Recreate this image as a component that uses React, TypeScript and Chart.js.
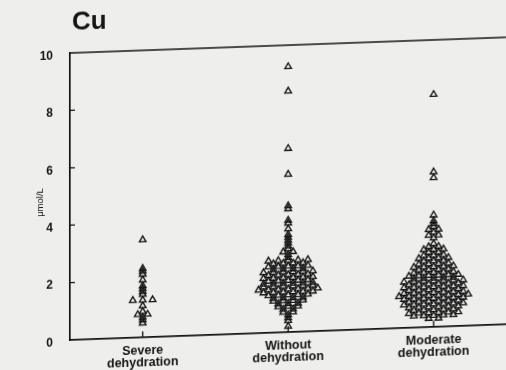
import { useEffect, useRef } from "react";
import { Chart, registerables } from "chart.js";

Chart.register(...registerables);

// Serum copper (µmol/L) by hydration status, one triangle per child
const groupNames = ["Severe dehydration", "Without dehydration", "Moderate dehydration"];
const groupLabels = [
  ["Severe", "dehydration"],
  ["Without", "dehydration"],
  ["Moderate", "dehydration"],
];
const yTickValues = [0, 2, 4, 6, 8, 10];
const yAxisTitle = "μmol/L";
const chartTitle = "Cu";

const severeDehydration = [
  3.4, 2.4, 2.3, 2.2, 2.0, 1.8, 1.7, 1.6, 1.5, 1.3, 1.3, 1.3, 1.1, 0.9, 0.8, 0.8,
  0.7, 0.6, 0.5,
];

const withoutDehydration = [
  9.25, 8.4, 6.4, 5.5, 4.4, 4.3, 3.9, 3.8, 3.6, 3.4, 3.3, 3.2, 3.1, 3.0, 2.9,
  2.8, 2.8, 2.7, 2.6,
  2.5, 2.5, 2.5, 2.5, 2.5,
  2.4, 2.4, 2.4, 2.4,
  2.3, 2.3, 2.3, 2.3, 2.3,
  2.2, 2.2, 2.2, 2.2,
  2.1, 2.1, 2.1, 2.1, 2.1, 2.1,
  2.0, 2.0, 2.0, 2.0, 2.0,
  1.9, 1.9, 1.9, 1.9, 1.9, 1.9,
  1.8, 1.8, 1.8, 1.8, 1.8,
  1.7, 1.7, 1.7, 1.7, 1.7, 1.7,
  1.6, 1.6, 1.6, 1.6, 1.6, 1.6,
  1.5, 1.5, 1.5, 1.5, 1.5, 1.5, 1.5,
  1.4, 1.4, 1.4, 1.4, 1.4, 1.4,
  1.3, 1.3, 1.3, 1.3, 1.3,
  1.2, 1.2, 1.2, 1.2,
  1.1, 1.1, 1.1, 1.1,
  1.0, 1.0, 1.0,
  0.9, 0.9, 0.9,
  0.8, 0.8,
  0.7, 0.7,
  0.6, 0.5, 0.4, 0.2,
];

const moderateDehydration = [
  8.1, 5.4, 5.2, 3.9,
  3.7, 3.6, 3.5, 3.4, 3.4, 3.3, 3.2, 3.2, 3.1,
  2.9,
  2.8, 2.8,
  2.7, 2.7, 2.7,
  2.6, 2.6,
  2.5, 2.5, 2.5,
  2.4, 2.4, 2.4, 2.4,
  2.3, 2.3, 2.3,
  2.2, 2.2, 2.2, 2.2,
  2.1, 2.1, 2.1, 2.1, 2.1,
  2.0, 2.0, 2.0, 2.0,
  1.9, 1.9, 1.9, 1.9, 1.9,
  1.8, 1.8, 1.8, 1.8, 1.8, 1.8,
  1.7, 1.7, 1.7, 1.7, 1.7,
  1.6, 1.6, 1.6, 1.6, 1.6, 1.6, 1.6,
  1.5, 1.5, 1.5, 1.5, 1.5, 1.5,
  1.4, 1.4, 1.4, 1.4, 1.4, 1.4, 1.4,
  1.3, 1.3, 1.3, 1.3, 1.3, 1.3,
  1.2, 1.2, 1.2, 1.2, 1.2, 1.2, 1.2,
  1.1, 1.1, 1.1, 1.1, 1.1, 1.1, 1.1, 1.1,
  1.0, 1.0, 1.0, 1.0, 1.0, 1.0, 1.0,
  0.9, 0.9, 0.9, 0.9, 0.9, 0.9,
  0.8, 0.8, 0.8, 0.8, 0.8, 0.8, 0.8,
  0.7, 0.7, 0.7, 0.7, 0.7, 0.7,
  0.6, 0.6, 0.6, 0.6, 0.6,
  0.5, 0.5, 0.5, 0.5, 0.5, 0.5,
  0.4, 0.4, 0.4, 0.4, 0.4,
  0.3, 0.3,
];

const groupValues = [severeDehydration, withoutDehydration, moderateDehydration];

const PAPER = "#eeeeec";
const INK = "#141414";
const FONT = "'Liberation Sans', Arial, Helvetica, sans-serif";
const SWARM_STEP_PX = 10;

// Dot-plot layout: equal readings sit side by side, centred on the group.
function swarm(values: number[], center: number, step: number) {
  const counts = new Map<string, number>();
  values.forEach((v) => {
    const k = v.toFixed(1);
    counts.set(k, (counts.get(k) ?? 0) + 1);
  });
  const seen = new Map<string, number>();
  return values.map((v) => {
    const k = v.toFixed(1);
    const n = counts.get(k) ?? 1;
    const i = seen.get(k) ?? 0;
    seen.set(k, i + 1);
    return { x: center + (i - (n - 1) / 2) * step, y: v };
  });
}

// Top frame line, inward tick marks, the element title and the unit label.
const framePlugin = {
  id: "frame",
  afterDraw(chart: any) {
    const { ctx, chartArea, scales } = chart;
    const { left, right, top, bottom } = chartArea;
    ctx.save();
    ctx.strokeStyle = INK;
    ctx.lineWidth = 1.7;
    ctx.beginPath();
    ctx.moveTo(left - 0.8, top);
    ctx.lineTo(right, top);
    ctx.stroke();

    ctx.lineWidth = 1.3;
    ctx.beginPath();
    yTickValues.forEach((v) => {
      if (v === 0 || v === 10) return;
      const py = scales.y.getPixelForValue(v);
      ctx.moveTo(left, py);
      ctx.lineTo(left + 5, py);
    });
    groupNames.forEach((_, i) => {
      const px = scales.x.getPixelForValue(i);
      ctx.moveTo(px, bottom);
      ctx.lineTo(px, bottom - 6);
    });
    ctx.stroke();

    ctx.fillStyle = INK;
    ctx.font = `bold 26px ${FONT}`;
    ctx.textAlign = "left";
    ctx.textBaseline = "alphabetic";
    ctx.fillText(chartTitle, left + 2, 30);

    ctx.translate(left - 30, (top + bottom) / 2 + 5);
    ctx.rotate(-Math.PI / 2);
    ctx.font = `9.5px ${FONT}`;
    ctx.textAlign = "center";
    ctx.textBaseline = "middle";
    ctx.fillText(yAxisTitle, 0, 0);
    ctx.restore();
  },
};

export default function App() {
  const canvasRef = useRef<HTMLCanvasElement | null>(null);

  useEffect(() => {
    const canvas = canvasRef.current;
    if (!canvas) return;

    const chart = new Chart(canvas, {
      type: "scatter",
      data: {
        datasets: groupValues.map((_, gi) => ({
          label: groupNames[gi],
          data: [] as { x: number; y: number }[],
          pointStyle: "triangle",
          pointRadius: 3.8,
          borderWidth: 1.35,
          borderColor: INK,
          backgroundColor: "rgba(0,0,0,0)",
        })),
      },
      options: {
        animation: false,
        responsive: false,
        maintainAspectRatio: false,
        events: [],
        layout: { padding: { top: 53, left: 0, right: 0, bottom: 0 } },
        plugins: {
          legend: { display: false },
          tooltip: { enabled: false },
          title: { display: false },
        },
        scales: {
          x: {
            type: "linear",
            min: -0.5,
            max: 2.5,
            afterBuildTicks: (axis: any) => {
              axis.ticks = groupNames.map((_, i) => ({ value: i }));
            },
            afterFit: (axis: any) => {
              axis.height = 50;
            },
            grid: { display: false, drawTicks: false },
            border: { display: true, color: INK, width: 1.7 },
            ticks: {
              autoSkip: false,
              maxRotation: 0,
              padding: 8,
              color: INK,
              font: { family: FONT, size: 12.5, weight: "bold", lineHeight: 0.92 },
              callback: (value: any) => groupLabels[Number(value)] ?? "",
            },
          },
          y: {
            min: 0,
            max: 10,
            afterBuildTicks: (axis: any) => {
              axis.ticks = yTickValues.map((v) => ({ value: v }));
            },
            afterFit: (axis: any) => {
              axis.width = 70;
            },
            grid: { display: false, drawTicks: false },
            border: { display: true, color: INK, width: 1.7 },
            ticks: {
              padding: 17,
              labelOffset: 2.5,
              color: INK,
              font: { family: FONT, size: 12, weight: "bold" },
            },
          },
        },
      },
      plugins: [framePlugin],
    });

    const xs = chart.scales.x;
    const pxPerUnit = xs.getPixelForValue(1) - xs.getPixelForValue(0);
    const step = SWARM_STEP_PX / pxPerUnit;
    groupValues.forEach((vals, gi) => {
      chart.data.datasets[gi].data = swarm(vals, gi, step);
    });
    chart.update();

    return () => chart.destroy();
  }, []);

  return (
    <div
      style={{
        position: "fixed",
        left: 0,
        top: 0,
        width: 506,
        height: 370,
        overflow: "hidden",
        background: PAPER,
      }}
    >
      <canvas
        ref={canvasRef}
        width={512}
        height={390}
        style={{
          display: "block",
          width: 512,
          height: 390,
          transform: "skewY(-2.06deg)",
          transformOrigin: "70px 340px",
        }}
      />
    </div>
  );
}
